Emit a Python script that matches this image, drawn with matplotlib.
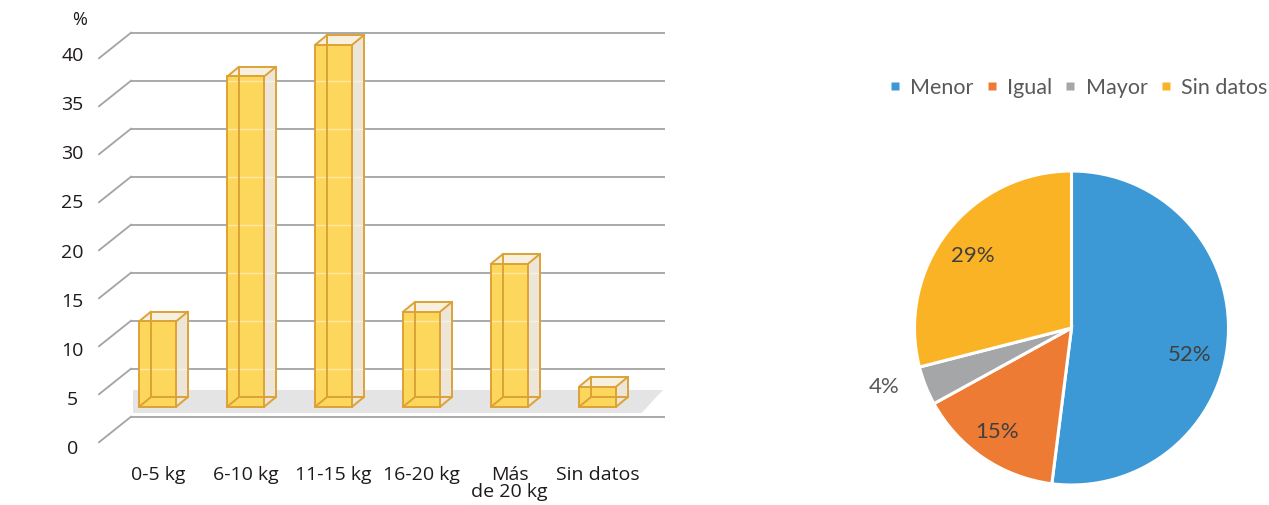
import math
import matplotlib
matplotlib.use("Agg")
import matplotlib.pyplot as plt
from matplotlib.patches import Polygon
from matplotlib.lines import Line2D

plt.rcParams['font.family'] = ['Lato', 'DejaVu Sans']
BAR_FONT = ['Open Sans', 'DejaVu Sans']

# ---- data ----
categories = ['0-5 kg', '6-10 kg', '11-15 kg', '16-20 kg', 'Más\nde 20 kg', 'Sin datos']
values = [8.9, 34.4, 37.7, 9.9, 14.9, 2.1]
yticks = [0, 5, 10, 15, 20, 25, 30, 35, 40]

pie_labels = ['Menor', 'Igual', 'Mayor', 'Sin datos']
pie_values = [52, 15, 4, 29]
pie_colors = ['#3C99D6', '#EE7B34', '#A4A6A8', '#FBB326']

# ---- figure ----
W_PX, H_PX = 1269, 505
fig = plt.figure(figsize=(W_PX / 100, H_PX / 100), dpi=100)
fig.patch.set_facecolor('white')

# ---- 3D-look bar chart ----
ax = fig.add_axes([0, 0, 700 / W_PX, 1])
ax.set_xlim(-1.792, 6.1625)
ax.set_ylim(-9.198, 43.406)
ax.axis('off')

grid_c = '#A3A3A3'
edge_c = '#DCA236'
front_c = '#FDD65C'
side_c = '#EDE6D8'
top_c = '#F8F0DF'
text_c = '#1E1A1B'

WALL_L, WALL_R = -0.303, 5.765   # back wall extent (category units)
DEPTH_X, DEPTH_Y = 0.364, 2.66   # floor depth offset of the grid
for v in yticks:
    ax.plot([WALL_L, WALL_R], [v, v], color=grid_c, lw=1.3, zorder=1,
            solid_capstyle='butt')
    ax.plot([WALL_L - DEPTH_X, WALL_L], [v - DEPTH_Y, v], color=grid_c,
            lw=1.3, zorder=1)
    ax.text(-0.97, 1.0234 * v - 3.365, str(v), ha='center', va='center',
            fontsize=14, color=text_c, family=BAR_FONT)

ax.text(-0.883, 41.3, '%', ha='center', va='center', fontsize=13,
        color=text_c, family=BAR_FONT)

# floor
floor = Polygon([(-0.28, 2.78), (5.74, 2.78), (5.50, 0.39), (-0.28, 0.39)],
                closed=True, facecolor='#E4E4E4', edgecolor='none', zorder=1.5)
ax.add_patch(floor)

HW = 0.21      # half bar width
DX = 0.131     # bar depth, x
DY = 0.99      # bar depth, y
BASE = 1.04

for i, h in enumerate(values):
    x0, x1 = i - HW, i + HW
    y0, y1 = BASE, BASE + h
    # right side face
    ax.add_patch(Polygon([(x1, y0), (x1 + DX, y0 + DY), (x1 + DX, y1 + DY), (x1, y1)],
                         closed=True, facecolor=side_c, edgecolor='none', zorder=2))
    # front face
    ax.add_patch(Polygon([(x0, y0), (x1, y0), (x1, y1), (x0, y1)],
                         closed=True, facecolor=front_c, edgecolor='none', zorder=2))
    # top face
    ax.add_patch(Polygon([(x0, y1), (x1, y1), (x1 + DX, y1 + DY), (x0 + DX, y1 + DY)],
                         closed=True, facecolor=top_c, edgecolor='none', zorder=2))
    # grid lines seen through the glass
    for v in yticks:
        if y0 + 0.3 < v < y1 - 0.3:
            ax.plot([x0, x1 + DX], [v, v], color='white', lw=1.0, alpha=0.45, zorder=2.5)
    # edges
    edges = [
        [(x0, y0), (x1, y0), (x1, y1), (x0, y1), (x0, y0)],
        [(x0 + DX, y0 + DY), (x1 + DX, y0 + DY), (x1 + DX, y1 + DY),
         (x0 + DX, y1 + DY), (x0 + DX, y0 + DY)],
        [(x0, y0), (x0 + DX, y0 + DY)], [(x1, y0), (x1 + DX, y0 + DY)],
        [(x0, y1), (x0 + DX, y1 + DY)], [(x1, y1), (x1 + DX, y1 + DY)],
    ]
    for e in edges:
        xs, ys = zip(*e)
        ax.plot(xs, ys, color=edge_c, lw=1.4, zorder=3, solid_joinstyle='miter')
    ax.text(i, -5.1, categories[i], ha='center', va='top', fontsize=14,
            color=text_c, linespacing=0.95, family=BAR_FONT)

# ---- pie chart ----
R = 157
cx, cy = 1071.5, H_PX - 328
pax = fig.add_axes([(cx - R) / W_PX, (cy - R) / H_PX, 2 * R / W_PX, 2 * R / H_PX])
wedges, _ = pax.pie(pie_values, colors=pie_colors, startangle=90, counterclock=False,
                    radius=1.0, wedgeprops=dict(edgecolor='white', linewidth=2.2))
pax.set_xlim(-1, 1)
pax.set_ylim(-1, 1)
pax.set_aspect('equal')
pax.axis('off')

label_r = [0.77, 0.815, 1.25, 0.78]
label_shift = [-9.3, -1.4, -4.0, 1.8]
label_color = ['#404040', '#404040', '#595959', '#404040']
for w, v, r, s, c in zip(wedges, pie_values, label_r, label_shift, label_color):
    ang = math.radians((w.theta1 + w.theta2) / 2 + s)
    pax.text(r * math.cos(ang), r * math.sin(ang), f'{v}%', ha='center', va='center',
             fontsize=16, color=c, clip_on=False)

handles = [Line2D([], [], marker='s', linestyle='none', markersize=5.5,
                  markerfacecolor=c, markeredgecolor='none') for c in pie_colors]
fig.legend(handles, pie_labels, loc='center', ncol=4, frameon=False,
           bbox_to_anchor=(1078.5 / W_PX, (H_PX - 88) / H_PX),
           fontsize=15.5, labelcolor='#595959', handlelength=0.5, handletextpad=0.45,
           columnspacing=0.6, borderpad=0)

fig.savefig('out.png', dpi=100, facecolor='white')
